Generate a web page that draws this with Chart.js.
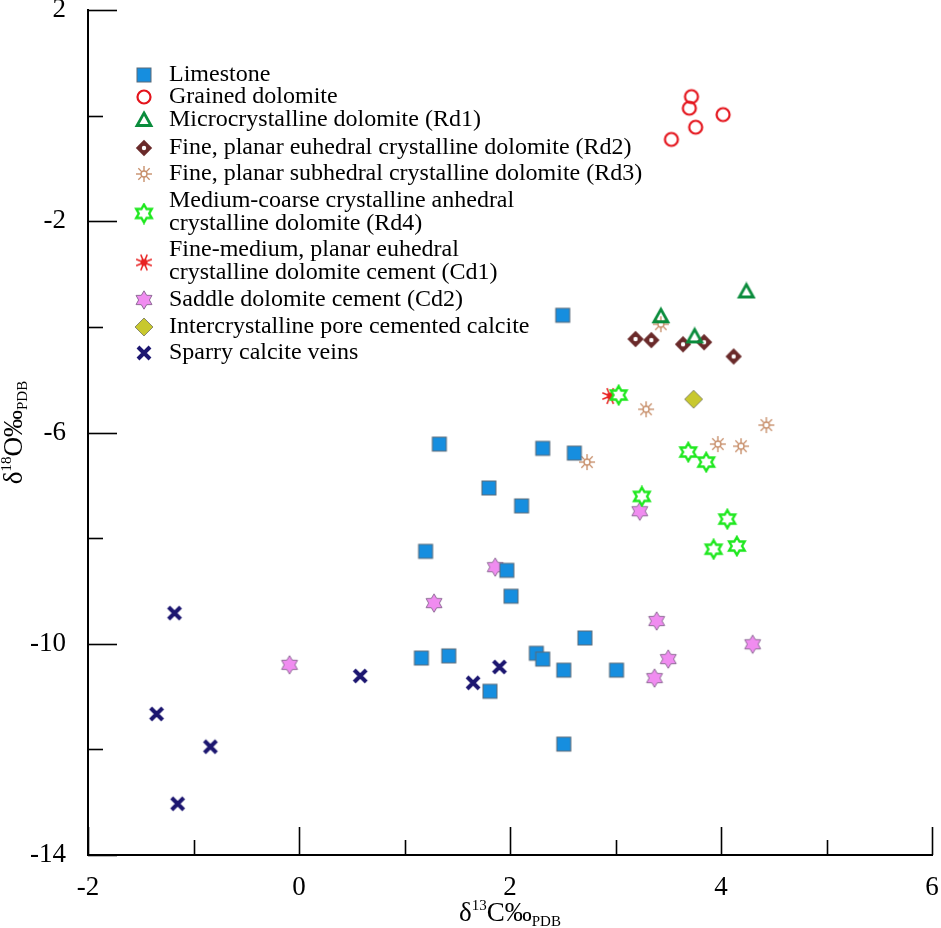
<!DOCTYPE html>
<html><head><meta charset="utf-8">
<script src="https://cdn.jsdelivr.net/npm/chart.js@4.4.0/dist/chart.umd.min.js"></script>
<style>html,body{margin:0;padding:0;background:#fff;overflow:hidden}</style>
</head><body>
<canvas id="c" width="941" height="928" style="width:941px;height:928px;display:block"></canvas>
<script>
// ---- data ----
const seriesNames = [
  "Limestone",
  "Grained dolomite",
  "Microcrystalline dolomite (Rd1)",
  "Fine, planar euhedral crystalline dolomite (Rd2)",
  "Fine, planar subhedral crystalline dolomite (Rd3)",
  "Medium-coarse crystalline anhedral\ncrystalline dolomite (Rd4)",
  "Fine-medium, planar euhedral\ncrystalline dolomite cement (Cd1)",
  "Saddle dolomite cement (Cd2)",
  "Intercrystalline pore cemented calcite",
  "Sparry calcite veins"
];
const limestoneX = [2.50,1.33,2.31,2.61,1.80,2.11,1.20,1.97,2.01,2.71,1.16,1.42,2.25,2.31,2.51,3.01,1.81,2.51];
const limestoneY = [-3.78,-6.22,-6.30,-6.39,-7.05,-7.39,-8.25,-8.61,-9.10,-9.89,-10.27,-10.23,-10.18,-10.29,-10.50,-10.50,-10.90,-11.90];
const grainedX = [3.72,3.70,4.02,3.76,3.53];
const grainedY = [0.36,0.14,0.02,-0.22,-0.45];
const rd1X = [4.24,3.43,3.75];
const rd1Y = [-3.33,-3.80,-4.18];
const rd2X = [3.19,3.34,3.64,3.84,4.12];
const rd2Y = [-4.23,-4.25,-4.33,-4.29,-4.56];
const rd3X = [3.43,3.29,4.43,3.97,4.19,2.73];
const rd3Y = [-3.95,-5.56,-5.86,-6.22,-6.26,-6.56];
const rd4X = [3.03,3.69,3.86,3.25,4.06,3.93,4.15];
const rd4Y = [-5.29,-6.37,-6.56,-7.21,-7.64,-8.21,-8.15];
const cd1X = [2.95];
const cd1Y = [-5.31];
const cd2X = [3.23,1.86,1.28,3.39,4.30,3.50,3.37,-0.09];
const cd2Y = [-7.49,-8.55,-9.23,-9.57,-10.01,-10.29,-10.65,-10.40];
const calciteX = [3.74];
const calciteY = [-5.37];
const sparryX = [-1.18,-1.35,-0.84,-1.15,0.58,1.90,1.65];
const sparryY = [-9.42,-11.33,-11.95,-13.03,-10.61,-10.44,-10.74];
const xTickLabels = [-2,0,2,4,6];
const yTickLabels = [2,-2,-6,-10,-14];

// ---- marker images ----
function mk(size, draw){
  const c=document.createElement('canvas'); c.width=size; c.height=size;
  const g=c.getContext('2d'); g.translate(size/2,size/2); draw(g); return c;
}
function starPath(g, n, ro, ri){
  g.beginPath();
  for(let i=0;i<2*n;i++){
    const r = i%2===0?ro:ri; const a = -Math.PI/2 + i*Math.PI/n;
    const px=r*Math.cos(a), py=r*Math.sin(a);
    if(i===0) g.moveTo(px,py); else g.lineTo(px,py);
  }
  g.closePath();
}
const markers = [
  mk(18,g=>{g.fillStyle='#168edf';g.fillRect(-7,-7,14,14);g.strokeStyle='#5a6a78';g.lineWidth=1;g.strokeRect(-7,-7,14,14);}),
  mk(20,g=>{g.beginPath();g.arc(0,0,6.5,0,2*Math.PI);g.strokeStyle='#e4141c';g.lineWidth=2.2;g.stroke();}),
  mk(20,g=>{g.beginPath();g.moveTo(0,-7);g.lineTo(7,5.5);g.lineTo(-7,5.5);g.closePath();g.strokeStyle='#0a8c3c';g.lineWidth=2.8;g.lineJoin='miter';g.stroke();}),
  mk(20,g=>{g.beginPath();g.moveTo(0,-8.2);g.lineTo(8.2,0);g.lineTo(0,8.2);g.lineTo(-8.2,0);g.closePath();g.fillStyle='#6a2a2a';g.fill();g.beginPath();g.arc(0,0,2.2,0,2*Math.PI);g.fillStyle='#fff';g.fill();}),
  mk(20,g=>{g.strokeStyle='#c8906c';g.lineWidth=1.4;for(let i=0;i<8;i++){const a=i*Math.PI/4;g.beginPath();g.moveTo(3*Math.cos(a),3*Math.sin(a));g.lineTo(8*Math.cos(a),8*Math.sin(a));g.stroke();}g.beginPath();g.arc(0,0,3,0,2*Math.PI);g.stroke();}),
  mk(22,g=>{starPath(g,6,9,5.2);g.fillStyle='#fff';g.fill();g.strokeStyle='#1ee81e';g.lineWidth=2.4;g.stroke();}),
  mk(20,g=>{g.strokeStyle='#e82020';g.lineWidth=1.5;for(let i=0;i<8;i++){const a=i*Math.PI/4+Math.PI/8;g.beginPath();g.moveTo(0,0);g.lineTo(8.5*Math.cos(a),8.5*Math.sin(a));g.stroke();}g.beginPath();g.arc(0,0,3.4,0,2*Math.PI);g.fillStyle='#e82020';g.fill();}),
  mk(22,g=>{starPath(g,6,9.2,5.4);g.fillStyle='#f08cf0';g.fill();g.strokeStyle='#8e6a96';g.lineWidth=1;g.stroke();}),
  mk(22,g=>{g.beginPath();g.moveTo(0,-9);g.lineTo(9,0);g.lineTo(0,9);g.lineTo(-9,0);g.closePath();g.fillStyle='#c8c82e';g.fill();g.strokeStyle='#8a8a6a';g.lineWidth=1;g.stroke();}),
  mk(18,g=>{g.strokeStyle='#1c1670';g.lineWidth=4;g.lineCap='butt';g.beginPath();g.moveTo(-6,-6);g.lineTo(6,6);g.moveTo(6,-6);g.lineTo(-6,6);g.stroke();})
];

const xs=[limestoneX,grainedX,rd1X,rd2X,rd3X,rd4X,cd1X,cd2X,calciteX,sparryX];
const ys=[limestoneY,grainedY,rd1Y,rd2Y,rd3Y,rd4Y,cd1Y,cd2Y,calciteY,sparryY];
const datasets = seriesNames.map((n,i)=>({
  label:n.replace('\n',' '),
  data:xs[i].map((x,j)=>({x:x,y:ys[i][j]})),
  pointStyle:markers[i], pointRadius:8, pointHoverRadius:8, showLine:false
}));

const FONT='"Liberation Serif","Times New Roman",serif';

const decor = {
  id:'decor',
  afterDraw(chart){
    const g=chart.ctx, xS=chart.scales.x, yS=chart.scales.y, a=chart.chartArea;
    g.save();
    g.strokeStyle='#000'; g.lineWidth=1.6;
    // inward ticks
    for(let v=-2; v<=6; v++){
      const p=Math.round(xS.getPixelForValue(v))+0.5, len=(v%2===0)?28:15;
      g.beginPath(); g.moveTo(p,a.bottom); g.lineTo(p,a.bottom-len); g.stroke();
    }
    for(let v=2; v>=-14; v-=2){
      const p=Math.round(yS.getPixelForValue(v))+0.5, len=((v-2)%4===0)?29:15;
      g.beginPath(); g.moveTo(a.left,p); g.lineTo(a.left+len,p); g.stroke();
    }
    // titles
    g.fillStyle='#000'; g.textBaseline='alphabetic'; g.textAlign='left';
    function rich(parts){
      let w=0; parts.forEach(p=>{g.font=p[1]+'px '+FONT; p.w=g.measureText(p[0]).width; w+=p.w;});
      return w;
    }
    function drawRich(parts, x0){
      let x=x0; parts.forEach(p=>{g.font=p[1]+'px '+FONT; g.fillText(p[0],x,p[2]); x+=p.w;});
    }
    const xt=[['δ',27,0],['13',15,-11],['C',27,0],['‰',27,0],['PDB',15,5]];
    const wx=rich(xt);
    g.save(); g.translate((a.left+a.right)/2, 921); drawRich(xt,-wx/2); g.restore();
    const yt=[['δ',27,0],['18',15,-11],['O',27,0],['‰',27,0],['PDB',15,5]];
    const wy=rich(yt);
    g.save(); g.translate(22,(a.top+a.bottom)/2); g.rotate(-Math.PI/2); drawRich(yt,-wy/2); g.restore();
    // legend
    const rowY=[75,97,120,148,174,[201,224],[250,273],300,327,353];
    const mx=a.left+56, tx=a.left+81;
    g.font='24px '+FONT; g.textBaseline='middle';
    seriesNames.forEach((n,i)=>{
      const lines=n.split('\n'); const r=rowY[i];
      const ry = Array.isArray(r)? r : [r];
      const my = ry.reduce((s,v)=>s+v,0)/ry.length + (Array.isArray(r)?1:0);
      const m=markers[i];
      g.drawImage(m, mx-m.width/2, my-m.height/2);
      lines.forEach((t,k)=>g.fillText(t,tx,ry[k]));
    });
    g.restore();
  }
};

new Chart(document.getElementById('c'),{
  type:'scatter',
  data:{datasets},
  options:{
    responsive:false, animation:false, devicePixelRatio:1,
    layout:{padding:{top:10,right:8,bottom:0,left:0}},
    plugins:{legend:{display:false},tooltip:{enabled:false}},
    scales:{
      x:{type:'linear',min:-2,max:6,
        ticks:{stepSize:1,autoSkip:false,maxRotation:0,padding:17,color:'#000',font:{family:FONT,size:27},
          callback:v=>xTickLabels.includes(v)?String(v):''},
        grid:{display:true,drawOnChartArea:false,drawTicks:false,color:'rgba(0,0,0,0)'},
        border:{display:true,color:'#000',width:2},
        afterFit:s=>{s.height=73;s.paddingLeft=0;s.paddingRight=0;}
      },
      y:{type:'linear',min:-14,max:2,
        ticks:{stepSize:2,autoSkip:false,padding:22,color:'#000',font:{family:FONT,size:27},
          callback:v=>yTickLabels.includes(v)?String(v):''},
        grid:{display:true,drawOnChartArea:false,drawTicks:false,color:'rgba(0,0,0,0)'},
        border:{display:true,color:'#000',width:2},
        afterFit:s=>{s.width=88;s.paddingTop=0;s.paddingBottom=0;}
      }
    }
  },
  plugins:[decor]
});
</script>
</body></html>
